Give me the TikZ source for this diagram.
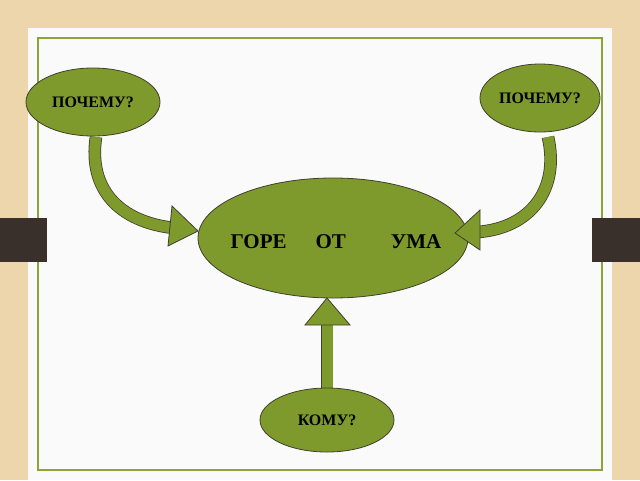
\documentclass[tikz,border=0pt]{standalone}
\usepackage{fontspec}
\setmainfont{Liberation Serif}
\usetikzlibrary{shapes.geometric}
\begin{document}
\begin{tikzpicture}[x=1pt,y=-1pt,
  bubble/.style={ellipse,draw=black!70!olive,line width=0.8pt,fill=oliveg,inner sep=0pt,font=\fontsize{16}{18}\selectfont\bfseries},
  shaft/.style={draw=black!70!olive,line width=0.8pt,double=oliveg,double distance=11pt},
  head/.style={draw=black!70!olive,line width=0.8pt,fill=oliveg,line join=miter}]
\definecolor{oliveg}{HTML}{7E9A2C}
\definecolor{tan}{HTML}{EDD5AC}
\definecolor{framec}{HTML}{8AA33A}
\definecolor{bar}{HTML}{3A302B}
\useasboundingbox (0,0) rectangle (640,480);
\fill[tan] (0,0) rectangle (640,480);
\fill[white!96!gray] (28,28) rectangle (612,480);
\draw[framec,line width=1.5pt] (38,38) rectangle (602,470);
\fill[bar] (0,218) rectangle (47,262);
\fill[bar] (592,218) rectangle (640,262);
% shafts
\draw[shaft] (96,137) .. controls (88,190) and (120,222) .. (174,228);
\draw[shaft] (548,137) .. controls (560,190) and (530,228) .. (478,232);
\draw[shaft] (327,389) -- (327,324);
% ellipses
\node[bubble,minimum width=270pt,minimum height=120pt] (c) at (333,238) {};
\node[font=\fontsize{21}{24}\selectfont\bfseries] (ct) at (336,242) {ГОРЕ\hspace{29pt}ОТ\hspace{45pt}УМА};
\node[bubble,minimum width=134pt,minimum height=68pt] (l) at (93,102) {\raisebox{-1pt}{ПОЧЕМУ?}};
\node[bubble,minimum width=120pt,minimum height=68pt] (r) at (540,98) {ПОЧЕМУ?};
\node[bubble,minimum width=134pt,minimum height=64pt] (k) at (327,420) {КОМУ?};
% heads
\draw[head] (172,206) -- (198,231) -- (168,246) -- cycle;
\draw[head] (480,210) -- (455,233) -- (480,250) -- cycle;
\draw[head] (305,325) -- (327,298) -- (350,325) -- cycle;
\end{tikzpicture}
\end{document}
